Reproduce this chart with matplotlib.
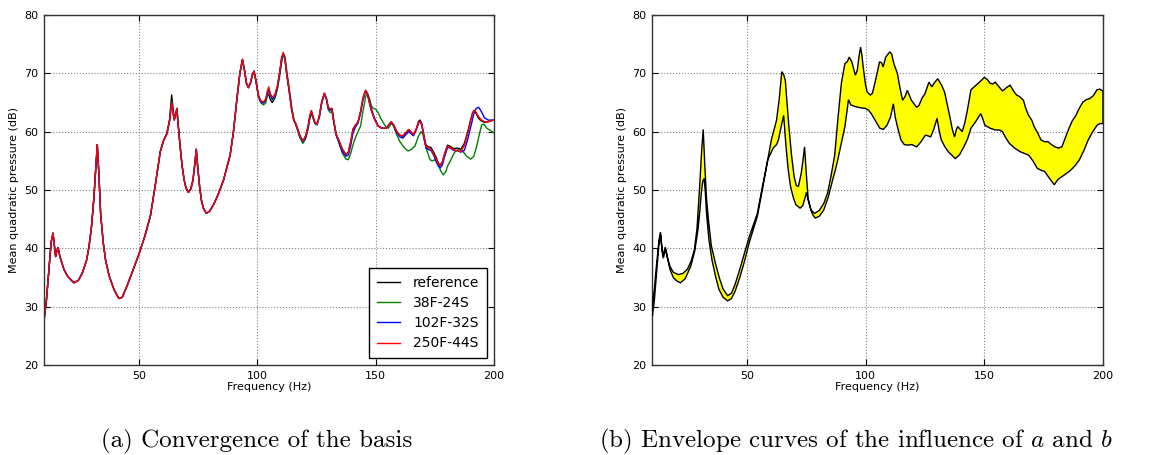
import matplotlib
matplotlib.use('Agg')
import matplotlib.pyplot as plt

# shared low-frequency part (all bases agree below ~60 Hz)
freq_low = [10.2, 11, 12, 13, 13.8, 14.4, 14.9, 15.4, 15.9, 16.8, 18.4, 20, 22.6, 24.5, 26.2, 28, 29, 30,
            31, 31.8, 32.5, 33.2, 33.9, 35, 36, 37.5, 39.5, 41.6, 43, 45, 47.5, 50, 52.5, 54.9, 56.9, 59.1]
db_low = [28.3, 31, 36, 41, 42.6, 40.5, 38.6, 39.5, 40.1, 38.5, 36.4, 35.2, 34.1, 34.5, 35.8, 38, 40.3, 43.5,
          48.3, 53.5, 57.8, 52.5, 46, 41, 38, 35.3, 33, 31.4, 31.6, 33.5, 36.2, 38.9, 42, 45.5, 50.6, 56.6]

freq_high = [60.5, 61.9, 63, 63.9, 64.5, 65, 65.6, 66.1, 66.7, 67.5, 68.3, 69.2, 70, 71, 72, 72.9, 73.7, 74.3,
             74.9, 75.7, 76.5, 77.3, 78.5, 80, 81.6, 83.5, 85.8, 88.6, 90, 91.4, 92.7, 93.8, 94.8, 95.5, 96.3,
             97.2, 98, 98.7, 99.5, 100.5, 101.5, 102.6, 103.6, 104.3, 104.9, 105.6, 106.4, 107.5, 108.5, 109.5,
             110.3, 111, 111.7, 112.5, 113.5, 114.5, 115.5, 116.3, 117, 118, 119.3, 120.5, 121.5, 122.3, 122.9,
             123.6, 124.4, 125.3, 126.3, 127.3, 128.4, 129.3, 130, 130.8, 131.6, 132.4, 133.3, 134.6, 136, 137.5,
             138.5, 139.5, 140.5, 141.5, 142.6, 143.7, 144.7, 145.8, 146.5, 147.4, 148.2, 149.5, 151, 152.6,
             154.5, 155.6, 156.6, 157.6, 159, 160.3, 161.5, 162.8, 164, 165, 166, 167.2, 168.2, 168.8, 169.5,
             170.5, 171.3, 172.5, 173.4, 174.5, 175.5, 176.5, 177.3, 178.2, 179.2, 180.4, 181.5, 183, 184.5, 186,
             187.5, 188.8, 190, 191, 191.6, 192.5, 193.5, 194.5, 196, 197.5, 199, 200]

ref_high = [58.5, 59.7, 62, 66.3, 64, 62.3, 63, 64, 61, 57.4, 54.2, 51.7, 50.3, 49.6, 50.2, 51.7, 54.5, 57,
            54, 50.6, 48.2, 46.9, 46, 46.4, 47.5, 49.2, 51.7, 56, 60, 65.4, 70, 72.4, 70.2, 68.3, 67.6,
            68.4, 69.8, 70.4, 68.8, 66.3, 65.3, 65.1, 65.3, 66.3, 66.4, 65.5, 65.0, 65.8, 67.5, 70,
            72.5, 73.5, 72.5, 69.8, 67.1, 64, 61.9, 61.4, 60.6, 59.4, 58.4, 59.3, 60.9, 62.8, 63.6,
            62.6, 61.6, 61.3, 62.8, 65.2, 66.6, 65.6, 64.2, 63.9, 64, 61.8, 59.7, 58.4, 57, 56.1,
            56.5, 58.3, 60.5, 61.1, 61.7, 63.5, 65.8, 67.1, 66.6, 65, 63.7, 62.2, 61, 60.6,
            60.6, 61.2, 61.7, 61.2, 60, 59.4, 59.2, 59.8, 60.3, 59.9, 59.4, 60.5, 61.8, 62, 61.4,
            59.2, 57.7, 57.4, 57.3, 56.5, 55.7, 54.6, 54.3, 54.8, 56.3, 57.7, 57.5, 57.1, 57.2, 57,
            58, 59.8, 61.8, 63.3, 63.6, 63.1, 62.3, 61.9, 61.6, 61.7, 61.9, 62]

f250_high = [58.5, 59.7, 61.8, 65.0, 63.2, 62.0, 63, 64, 61, 57.4, 54.2, 51.7, 50.3, 49.6, 50.2, 51.7, 54.5, 57,
             54, 50.6, 48.2, 46.9, 46, 46.4, 47.5, 49.2, 51.7, 56, 60, 65.4, 70, 72.4, 70.2, 68.3, 67.6,
             68.4, 69.8, 70.4, 68.8, 66.3, 65.3, 65.1, 65.6, 67.0, 67.7, 66.5, 65.9, 66.4, 67.8, 70.2,
             72.6, 73.6, 72.6, 69.8, 67.1, 64, 61.9, 61.4, 60.6, 59.4, 58.4, 59.3, 60.9, 62.8, 63.6,
             62.6, 61.6, 61.3, 62.8, 65.2, 66.6, 65.6, 64.2, 63.9, 64, 61.8, 59.7, 58.4, 57, 56.1,
             56.4, 58.2, 60.4, 61.1, 61.7, 63.5, 65.8, 67.1, 66.6, 65, 63.7, 62.2, 61, 60.6,
             60.6, 61.2, 61.7, 61.2, 60, 59.4, 59.3, 59.9, 60.4, 60.0, 59.5, 60.5, 61.6, 61.8, 61.2,
             59.0, 57.5, 57.2, 57.0, 56.2, 55.4, 54.5, 54.2, 54.8, 56.2, 57.5, 57.3, 56.9, 56.7, 56.6,
             57.6, 59.5, 61.6, 63.2, 63.7, 63.3, 62.6, 62.1, 61.7, 61.7, 61.9, 62]

f102_high = [58.5, 59.7, 61.8, 65.0, 63.2, 62.0, 63, 64, 61, 57.4, 54.2, 51.7, 50.3, 49.6, 50.2, 51.7, 54.5, 57,
             54, 50.6, 48.2, 46.9, 46, 46.4, 47.5, 49.2, 51.7, 56, 60, 65.4, 70, 72.4, 70.2, 68.3, 67.6,
             68.4, 69.8, 70.4, 68.8, 66.2, 65.1, 64.9, 65.4, 66.6, 67.3, 66.3, 65.6, 66.1, 67.6, 70.0,
             72.3, 73.4, 72.6, 69.9, 67.2, 64.1, 61.9, 61.3, 60.5, 59.2, 58.3, 59.1, 60.7, 62.6, 63.4,
             62.5, 61.5, 61.2, 62.6, 65.0, 66.5, 65.6, 64.0, 63.7, 63.8, 61.6, 59.5, 58.1, 56.6, 55.8,
             56.0, 57.6, 59.8, 60.8, 61.5, 63.2, 65.5, 66.9, 66.7, 65.3, 64.0, 62.4, 61.1, 60.6,
             60.6, 61.2, 61.6, 61.1, 59.8, 59.1, 58.9, 59.5, 60.0, 59.7, 59.3, 60.3, 61.5, 61.8, 61.2,
             58.9, 57.2, 56.9, 56.8, 56.0, 55.0, 54.1, 53.8, 54.3, 55.8, 57.3, 57.2, 56.8, 56.8, 56.5,
             56.8, 58.5, 60.5, 62.2, 63.2, 64.0, 64.2, 63.6, 62.4, 62.0, 62.0, 62]

freq_38 = [60.5, 61.9, 63, 63.9, 64.5, 65, 65.6, 66.1, 66.7, 67.5, 68.3, 69.2, 70, 71, 72, 72.9, 73.7, 74.3,
           74.9, 75.7, 76.5, 77.3, 78.5, 80, 81.6, 83.5, 85.8, 88.6, 90, 91.4, 92.7, 93.8, 94.8, 95.5, 96.3,
           97.2, 98, 98.7, 99.5, 100.5, 101.5, 102.6, 103.6, 104.3, 104.9, 105.6, 106.4, 107.5, 108.5, 109.5,
           110.3, 111, 111.7, 112.5, 113.5, 114.5, 115.5, 116.3, 117, 118, 119.3, 120.5, 121.5, 122.3, 122.9,
           123.6, 124.4, 125.3, 126.3, 127.3, 128.4, 129.3, 130, 130.8, 131.6, 132.4, 133.3, 134.6, 136, 137.5,
           138.5, 139.5, 140.5, 141.5, 142.6, 143.7, 144.7, 145.8, 146.5, 147.4, 148.2, 149, 150, 151.2, 152.2,
           153.3, 154.5, 155.4, 156.8, 157.8, 158.9, 160.3, 161.7, 163, 163.8, 165.2, 166.7, 168.1, 169.2, 170,
           171, 171.6, 173, 174, 175.1, 176.5, 177.5, 178.6, 179.6, 180.5, 181.5, 182.5, 183.6, 185, 186.4,
           187.5, 188.5, 190.2, 191.5, 192.7, 193.8, 194.8, 195.8, 197, 198.5, 200]
db_38 = [58.5, 59.7, 61.8, 65.2, 63.4, 62.0, 63, 63.8, 61, 57.4, 54.2, 51.7, 50.3, 49.6, 50.2, 51.7, 54.5, 57,
         54, 50.6, 48.2, 46.9, 46, 46.4, 47.5, 49.2, 51.7, 56, 60, 65.4, 70, 72.3, 70.2, 68.3, 67.5,
         68.3, 69.7, 70.2, 68.6, 66.0, 65.0, 64.6, 64.9, 66.2, 67.2, 66.4, 65.5, 65.8, 67.2, 69.5,
         71.8, 73.1, 73.0, 70.5, 67.5, 64.5, 62.2, 61.2, 60.3, 59.0, 58.0, 58.8, 60.4, 62.3, 63.1,
         62.3, 61.4, 61.2, 62.6, 65.0, 66.4, 65.5, 63.8, 63.3, 63.5, 61.5, 59.5, 58.0, 56.3, 55.3,
         55.2, 56.3, 57.8, 59.0, 60.0, 61.0, 63.5, 66.0, 66.6, 65.8, 64.5, 64.0, 63.9, 63.2, 62.3,
         61.5, 60.8, 60.6, 61.5, 60.8, 59.5, 58.3, 57.5, 56.9, 56.7, 57.0, 57.6, 59.2, 60.0, 59.6,
         57.8, 56.9, 55.2, 55.0, 55.2, 54.4, 53.3, 52.6, 53.1, 54.2, 54.9, 55.8, 56.6, 56.9, 56.8,
         56.3, 55.8, 55.3, 55.8, 57.5, 59.5, 61.2, 61.3, 60.6, 60.2, 59.8]

# envelope of the influence of a and b
freq_up = [10.2, 11, 12, 13, 13.6, 14.1, 14.6, 15.1, 15.6, 16.5, 17.6, 19, 21.2, 23, 24.9, 26.5, 27.9, 29, 30.1,
           30.9, 31.6, 32.3, 33, 33.8, 35, 36.7, 38.5, 40, 41.9, 43.5, 45, 47, 49, 51, 54.4, 56.5, 58.8, 60.3,
           62.5, 63.6, 64.7, 65.5, 66.2, 66.9, 67.7, 68.8, 69.9, 70.8, 71.7, 72.9, 73.6, 74.3, 75, 75.8, 77,
           78.5, 80.5, 82.4, 84, 85.4, 87, 88.3, 89.8, 91.3, 92.3, 93.1, 94.2, 95.7, 96.5, 97.2, 97.9, 98.5, 99,
           100, 100.7, 102, 102.9, 104.3, 105.9, 106.8, 107.4, 108.5, 110.2, 111, 111.9, 113.4, 114.5, 115.6,
           116.6, 117.6, 118.5, 119.3, 121.5, 122.5, 123.7, 125, 126.7, 127.9, 129, 130.4, 132, 133.3, 134.5,
           135.5, 136.5, 137.5, 138.2, 138.8, 139.7, 140.7, 141.8, 142.9, 144.4, 146.6, 148.5, 150, 151.2,
           152.5, 153.6, 154.7, 156, 157.7, 159.5, 160.9, 162.3, 163.6, 165, 166.5, 167.5, 168.7, 170, 171,
           172.5, 173.9, 175.3, 176.8, 178.3, 179.8, 181.3, 182.7, 184.2, 185.7, 187, 188.6, 190, 191.6, 193,
           194.5, 196, 197.5, 198.7, 200]
db_up = [30.4, 33, 37.5, 41.5, 42.8, 40.5, 38.6, 39.5, 40.2, 38.5, 36.9, 35.9, 35.5, 35.7, 36.4, 37.8, 39.8, 43.5,
         50.6, 56.5, 60.4, 54, 48.5, 44.9, 40.5, 37.5, 34.8, 33, 31.9, 32.3, 33.8, 36.4, 39.2, 42, 46, 50.5, 55.2,
         58.6, 62, 65.5, 70.3, 69.8, 68.8, 65, 60.9, 56, 52.3, 50.8, 50.6, 52.9, 55, 57.4, 53, 48.6, 46.6,
         46, 46.5, 47.7, 49.5, 52.3, 56, 62, 68.3, 71.7, 72, 72.8, 72, 69.7, 70.5, 72.8, 74.5, 73, 71.1,
         68, 66.8, 66.3, 66.6, 69, 72, 71.8, 71.1, 72.8, 73.7, 73.3, 71.7, 70, 67.5, 65.4,
         66, 67.1, 66.2, 65.4, 64.2, 64.5, 65.7, 66.5, 68.5, 67.7, 68.4, 69.1, 68, 66.8, 64.5,
         62.6, 60.5, 59.1, 60.3, 60.9, 60.5, 60, 61.5, 63.7, 67.2, 68, 68.7, 69.3, 69,
         68.3, 68.2, 68.5, 67.8, 67, 67.6, 68, 67, 66.3, 66, 65.4, 64, 62.8, 62, 60.9,
         59.8, 58.6, 58.3, 58.3, 57.8, 57.4, 57.2, 57.4, 59, 60.6, 61.8, 62.8, 64, 65.1, 65.5,
         65.7, 66.2, 67.2, 67.3, 67]

freq_lo = [10.2, 11, 12, 13, 13.6, 14.2, 14.8, 15.3, 15.8, 16.6, 17.6, 19, 20.5, 22, 24, 26.4, 28, 29.4, 30.2,
           30.8, 31.4, 32, 32.5, 33, 34, 35.3, 36.8, 38.2, 40, 41.9, 43.5, 45, 47, 49, 51, 54.4, 56.5, 58.8,
           61.1, 62.5, 63.3, 64.5, 65.5, 66, 66.5, 67.4, 68.4, 69.5, 70.6, 72.4, 73.5, 74.4, 75.1, 75.8, 76.5,
           77.7, 78.8, 80.5, 82.4, 84.3, 86.1, 87.3, 88.3, 89.5, 91.3, 92, 92.8, 93.8, 95.7, 98, 100, 101.2,
           102.4, 104, 106, 107.5, 109, 110.5, 111.7, 112.5, 113.4, 114.9, 116.3, 117.8, 119.5, 120.5, 121.5,
           123.2, 125.2, 126.3, 127.4, 128.8, 130.1, 131, 131.9, 133.3, 134.8, 136.3, 137.8, 139.5, 141.4, 143,
           144.4, 146.5, 148.5, 149.3, 150.3, 152.5, 154.7, 156.5, 157.7, 159, 160.6, 162.8, 165, 166.8, 168.7,
           170.5, 172.4, 174, 175.4, 177.5, 179.5, 181, 182.7, 184.5, 186.4, 188.3, 190.1, 192, 193.8, 195.7,
           197.5, 198.8, 200]
db_lo = [28.4, 31, 36, 41, 42.3, 40, 38.3, 39.2, 39.8, 38.2, 36.4, 35, 34.4, 34.1, 34.8, 37, 39.5, 43.2, 46.5,
         49.5, 51.5, 52, 49.5, 46, 41.5, 38, 35.2, 33, 31.6, 31, 31.4, 32.6, 35, 37.8, 41, 45.5, 50, 55.2,
         57.2, 57.8, 58.6, 61, 62.8, 60, 57.4, 53.5, 50.6, 48.8, 47.5, 46.9, 47.3, 48.5, 49.6, 48.3, 47.2,
         45.8, 45.2, 45.5, 46.6, 48.8, 51.7, 53.5, 55.2, 57.5, 60.9, 63, 65.5, 64.6, 64.3, 64.1, 64, 63.7,
         63.1, 62, 60.6, 60.4, 61.1, 62.5, 64.8, 62.5, 60.9, 58.6, 57.8, 57.7, 57.8, 57.6, 57.4,
         58.2, 59.4, 59.3, 59.1, 60.5, 62.3, 60.2, 58.6, 57.5, 56.6, 56, 55.4, 56, 57.4, 58.8,
         60.6, 61.8, 63.1, 62.3, 61.1, 60.6, 60.3, 60.3, 60, 59, 58, 57.2, 56.6, 56.3, 56,
         55, 53.7, 53.4, 53.2, 52, 50.9, 51.8, 52.3, 52.8, 53.4, 54.2, 55.2, 56.8, 58.6, 60,
         61.1, 61.4, 61.4]


def style_axes(ax):
    ax.set_xlim(10, 200)
    ax.set_ylim(20, 80)
    ax.set_xticks([50, 100, 150, 200])
    ax.set_yticks([20, 30, 40, 50, 60, 70, 80])
    ax.grid(True, color='#808080', linestyle=':', linewidth=0.8)
    ax.tick_params(direction='in', top=True, right=True, labelsize=8, length=4, width=0.8, pad=4)
    for sp in ax.spines.values():
        sp.set_color('#333333')
        sp.set_linewidth(1.0)
    ax.set_xlabel('Frequency (Hz)', fontsize=8, labelpad=1)
    ax.set_ylabel('Mean quadratic pressure (dB)', fontsize=8, labelpad=4)


plt.rcParams['mathtext.fontset'] = 'cm'

fig = plt.figure(figsize=(11.49, 4.55), dpi=100)
fig.patch.set_facecolor('white')

ax1 = fig.add_axes([0.0383, 0.1978, 0.3916, 0.769])
ax1.plot(freq_low + freq_high, db_low + ref_high, color='k', lw=1.0, label='reference')
ax1.plot(freq_low + freq_38, db_low + db_38, color='g', lw=1.0, label='38F-24S')
ax1.plot(freq_low + freq_high, db_low + f102_high, color='b', lw=1.0, label='102F-32S')
ax1.plot(freq_low + freq_high, db_low + f250_high, color='r', lw=1.0, label='250F-44S')
style_axes(ax1)
leg = ax1.legend(loc='lower right', fontsize=10, fancybox=False, framealpha=1, edgecolor='k',
                 handlelength=1.7, handletextpad=0.9, labelspacing=0.45, borderaxespad=0.5,
                 borderpad=0.55)
leg.get_frame().set_linewidth(1.0)

ax2 = fig.add_axes([0.5674, 0.1978, 0.3925, 0.769])
poly_f = freq_up + freq_lo[::-1]
poly_v = db_up + db_lo[::-1]
ax2.fill(poly_f, poly_v, facecolor='yellow', edgecolor='k', lw=1.0, zorder=3)
style_axes(ax2)

fig.text(257 / 1149, 1 - 441 / 455, '(a) Convergence of the basis', family='cmr10',
         fontsize=18, ha='center', va='center')
fig.text(856 / 1149, 1 - 441 / 455, '(b) Envelope curves of the influence of $a$ and $b$', family='cmr10',
         fontsize=18, ha='center', va='center')

fig.savefig('out.png', dpi=100)
